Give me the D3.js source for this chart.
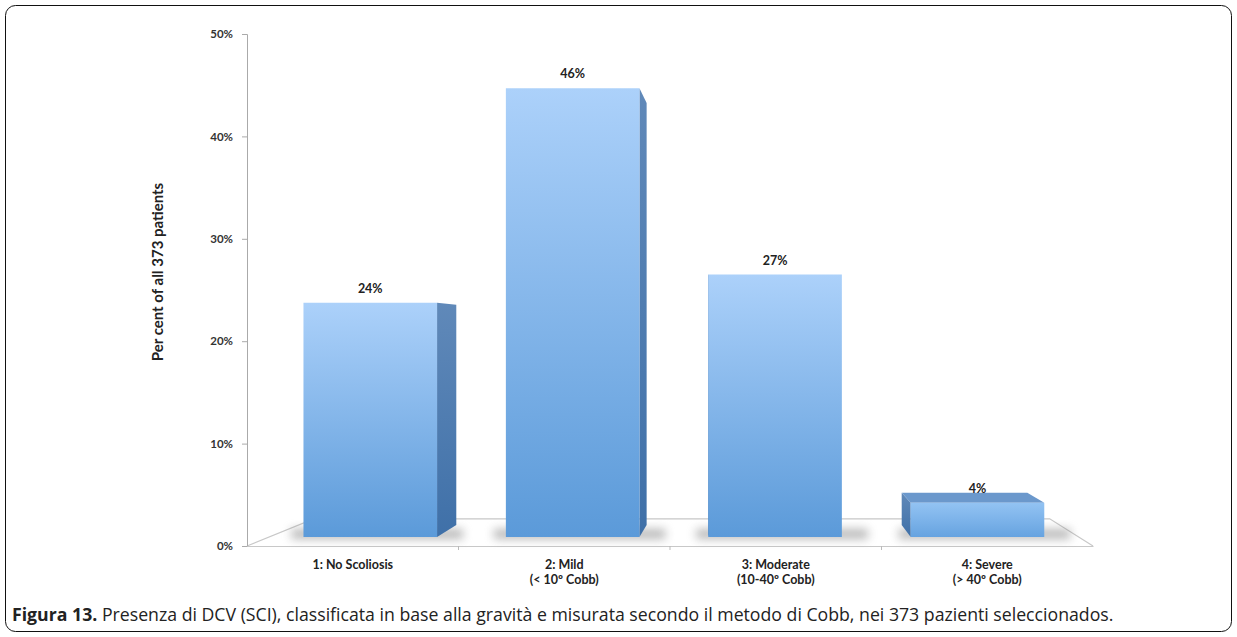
<!DOCTYPE html>
<html>
<head>
<meta charset="utf-8">
<script src="https://cdn.jsdelivr.net/npm/d3@7"></script>
<style>
  body { margin: 0; background: #fff; }
  svg { display: block; }
</style>
</head>
<body>
<div id="chart"></div>
<script>
var width = 1237;
var height = 637;

// data (bar heights), labels are the rounded values
var categories = ["1: No Scoliosis", "2: Mild", "3: Moderate", "4: Severe"];
var subLabels = ["", "(< 10º Cobb)", "(10-40º Cobb)", "(> 40º Cobb)"];
var percents = [23.9, 45.8, 26.8, 3.5];
var yTicks = [0, 10, 20, 30, 40, 50];

var caption = {
  bold: "Figura 13.",
  text: " Presenza di DCV (SCI), classificata in base alla gravità e misurata secondo il metodo di Cobb, nei 373 pazienti seleccionados."
};

var font = "Lato, 'Open Sans', sans-serif";

// perspective: vanishing point and depths
var vp = { x: 760, y: 337 };
var depth = { barFront: 0.957, barBack: 0.9, floorBack: 0.87 };

function proj(X, Y, s) {
  return [vp.x + (X - vp.x) * s, vp.y + (Y - vp.y) * s];
}

var svg = d3.select("#chart").append("svg")
  .attr("width", width)
  .attr("height", height);

var defs = svg.append("defs");

var gFront = defs.append("linearGradient").attr("id", "front")
  .attr("x1", 0).attr("y1", 0).attr("x2", 0).attr("y2", 1);
gFront.append("stop").attr("offset", "0%").attr("stop-color", "#acd1fa");
gFront.append("stop").attr("offset", "100%").attr("stop-color", "#5b9ad9");

var gFrontShort = defs.append("linearGradient").attr("id", "frontShort")
  .attr("x1", 0).attr("y1", 0).attr("x2", 0).attr("y2", 1);
gFrontShort.append("stop").attr("offset", "0%").attr("stop-color", "#93c3f3");
gFrontShort.append("stop").attr("offset", "100%").attr("stop-color", "#66a3e0");

var gSide = defs.append("linearGradient").attr("id", "side")
  .attr("x1", 0).attr("y1", 0).attr("x2", 0).attr("y2", 1);
gSide.append("stop").attr("offset", "0%").attr("stop-color", "#6089b9");
gSide.append("stop").attr("offset", "100%").attr("stop-color", "#3f70a8");

defs.append("filter").attr("id", "blur")
  .attr("x", "-30%").attr("y", "-200%").attr("width", "160%").attr("height", "500%")
  .append("feGaussianBlur").attr("stdDeviation", 5);

// frame
svg.append("rect")
  .attr("x", 5.5).attr("y", 5.5)
  .attr("width", 1226).attr("height", 626)
  .attr("rx", 10).attr("ry", 10)
  .attr("fill", "none")
  .attr("stroke", "#111")
  .attr("stroke-width", 1);

var x = d3.scaleBand()
  .domain(categories)
  .range([247, 1093])
  .paddingInner(0)
  .paddingOuter(0);

var y = d3.scaleLinear()
  .domain([0, 50])
  .range([546, 34]);

var barFrac = 0.66;

// floor
var fl = proj(x.range()[0], y(0), depth.floorBack);
var fr = proj(x.range()[1], y(0), depth.floorBack);
svg.append("path")
  .attr("d", "M" + x.range()[0] + "," + y(0) + "L" + fl + "L" + fr + "L" + x.range()[1] + "," + y(0))
  .attr("fill", "none")
  .attr("stroke", "#c8c8c8")
  .attr("stroke-width", 1.2);

// y axis
var yAxis = svg.append("g")
  .attr("transform", "translate(247,0)")
  .call(d3.axisLeft(y).tickValues(yTicks).tickSize(5).tickPadding(9).tickFormat(d => d + "%"));
yAxis.attr("font-size", null).attr("font-family", null);
yAxis.select(".domain").attr("stroke", "#aaa");
yAxis.selectAll(".tick line").attr("stroke", "#aaa");
yAxis.selectAll("text")
  .attr("font-family", font)
  .attr("font-weight", "bold")
  .attr("font-size", 11.5)
  .attr("fill", "#333");

// x axis (front edge of the floor)
var xAxis = svg.append("g")
  .attr("transform", "translate(0," + y(0) + ")")
  .call(d3.axisBottom(x).tickSize(0).tickFormat(""));
xAxis.select(".domain").attr("stroke", "#c8c8c8").attr("stroke-width", 1.2);
xAxis.selectAll(".tick").remove();
xAxis.selectAll(".sep")
  .data(categories.slice(1))
  .enter().append("line")
  .attr("x1", d => x(d)).attr("x2", d => x(d))
  .attr("y1", 0).attr("y2", 4)
  .attr("stroke", "#bbb");

var bars = categories.map((c, i) => {
  var cx = x(c) + x.bandwidth() / 2;
  var half = x.bandwidth() * barFrac / 2;
  var X0 = cx - half, X1 = cx + half;
  var Yt = y(percents[i]), Yb = y(0);
  return {
    cat: c, i: i, value: percents[i],
    fTL: proj(X0, Yt, depth.barFront), fTR: proj(X1, Yt, depth.barFront),
    fBL: proj(X0, Yb, depth.barFront), fBR: proj(X1, Yb, depth.barFront),
    bTL: proj(X0, Yt, depth.barBack), bTR: proj(X1, Yt, depth.barBack),
    bBL: proj(X0, Yb, depth.barBack), bBR: proj(X1, Yb, depth.barBack),
    rightSide: cx < vp.x
  };
});

function poly(pts) { return "M" + pts.join("L") + "Z"; }

// shadows on the floor
svg.append("g").selectAll("rect")
  .data(bars)
  .enter().append("rect")
  .attr("x", d => d.fBL[0] - 12)
  .attr("y", d => d.fBL[1] - 8)
  .attr("width", d => d.fBR[0] - d.fBL[0] + 38)
  .attr("height", 10)
  .attr("fill", "#808080")
  .attr("opacity", 0.55)
  .attr("filter", "url(#blur)");

var g = svg.append("g");

g.selectAll(".side")
  .data(bars)
  .enter().append("path")
  .attr("class", "side")
  .attr("d", d => d.rightSide
    ? poly([d.fTR, d.bTR, d.bBR, d.fBR])
    : poly([d.fTL, d.bTL, d.bBL, d.fBL]))
  .attr("fill", "url(#side)");

g.selectAll(".top")
  .data(bars.filter(d => d.fTL[1] > vp.y))
  .enter().append("path")
  .attr("class", "top")
  .attr("d", d => poly([d.fTL, d.fTR, d.bTR, d.bTL]))
  .attr("fill", "#6b98cc");

g.selectAll(".front")
  .data(bars)
  .enter().append("path")
  .attr("class", "front")
  .attr("d", d => poly([d.fTL, d.fTR, d.fBR, d.fBL]))
  .attr("fill", d => (d.fBL[1] - d.fTL[1]) < 80 ? "url(#frontShort)" : "url(#front)");

// value labels
svg.append("g").selectAll("text")
  .data(bars)
  .enter().append("text")
  .attr("x", d => (d.fTL[0] + d.fTR[0]) / 2)
  .attr("y", d => d.fTL[1] - 13)
  .attr("text-anchor", "middle")
  .attr("dominant-baseline", "middle")
  .attr("font-family", font)
  .attr("font-weight", "bold")
  .attr("font-size", 12.5)
  .attr("fill", "#222")
  .text(d => Math.round(d.value) + "%");

// category labels
var cl = svg.append("g").selectAll("text")
  .data(categories)
  .enter().append("text")
  .attr("text-anchor", "middle")
  .attr("font-family", font)
  .attr("font-weight", "bold")
  .attr("font-size", 12.5)
  .attr("fill", "#222");
cl.append("tspan")
  .attr("x", d => x(d) + x.bandwidth() / 2)
  .attr("y", 569)
  .text(d => d);
cl.append("tspan")
  .attr("x", d => x(d) + x.bandwidth() / 2)
  .attr("y", 584)
  .text((d, i) => subLabels[i]);

// y title
svg.append("text")
  .attr("transform", "translate(163,272) rotate(-90)")
  .attr("text-anchor", "middle")
  .attr("font-family", font)
  .attr("font-weight", "bold")
  .attr("font-size", 15)
  .attr("fill", "#222")
  .text("Per cent of all 373 patients");

// caption
var cap = svg.append("text")
  .attr("x", 12)
  .attr("y", 621)
  .attr("font-family", "'Open Sans', sans-serif")
  .attr("font-size", 17.7)
  .attr("fill", "#222");
cap.append("tspan").attr("font-weight", "bold").text(caption.bold);
cap.append("tspan").text(caption.text);
</script>
</body>
</html>
